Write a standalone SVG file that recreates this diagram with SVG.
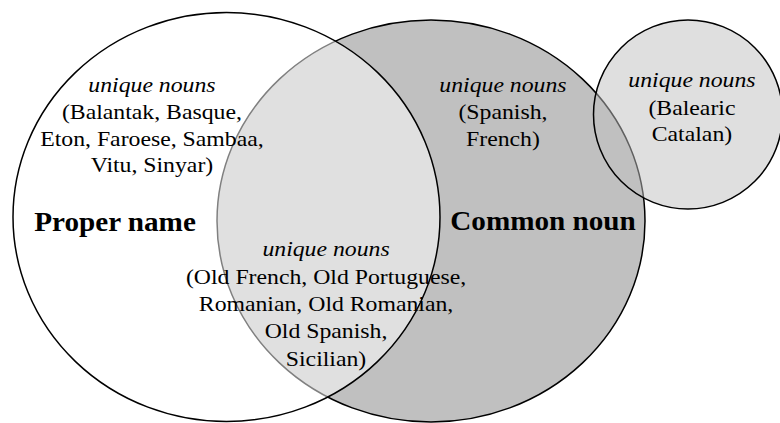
<svg xmlns="http://www.w3.org/2000/svg" width="780" height="423" viewBox="0 0 780 423">
<style>
.c{stroke:#000;stroke-width:1.5}
.t{font-family:"Liberation Serif","Times New Roman",serif;font-size:22px;fill:#000;text-anchor:middle}
.i{font-style:italic}
.b{font-weight:bold;font-size:27px}
</style>
<rect width="780" height="423" fill="#fff"/>
<g id="common-noun">
<ellipse class="c" cx="431" cy="221" rx="214" ry="201" fill="#c0c0c0"/>
</g>
<g id="proper-name">
<ellipse class="c" cx="226.5" cy="217" rx="213.5" ry="204.5" fill="#fff" fill-opacity="0.5"/>
</g>
<g id="balearic">
<ellipse class="c" cx="688" cy="114.5" rx="94.5" ry="94.5" fill="#c0c0c0" fill-opacity="0.5"/>
</g>
<g id="connectors"></g>
<g id="labels" transform="scale(1.08 1)">
<g id="label-proper-unique">
<text class="t i" x="140.7" y="92">unique nouns</text>
<text class="t" x="140.7" y="119">(Balantak, Basque,</text>
<text class="t" x="140.7" y="146">Eton, Faroese, Sambaa,</text>
<text class="t" x="140.7" y="172">Vitu, Sinyar)</text>
</g>
<g id="label-proper">
<text class="t b" x="106.5" y="231.5">Proper name</text>
</g>
<g id="label-common">
<text class="t b" x="502.8" y="230">Common noun</text>
</g>
<g id="label-both">
<text class="t i" x="301.9" y="256">unique nouns</text>
<text class="t" x="301.9" y="284">(Old French, Old Portuguese,</text>
<text class="t" x="301.9" y="311.5">Romanian, Old Romanian,</text>
<text class="t" x="301.9" y="338.5">Old Spanish,</text>
<text class="t" x="301.9" y="366">Sicilian)</text>
</g>
<g id="label-common-unique">
<text class="t i" x="465.7" y="92">unique nouns</text>
<text class="t" x="465.7" y="119.5">(Spanish,</text>
<text class="t" x="465.7" y="146">French)</text>
</g>
<g id="label-balearic">
<text class="t i" x="640.7" y="87">unique nouns</text>
<text class="t" x="640.7" y="115">(Balearic</text>
<text class="t" x="640.7" y="141.5">Catalan)</text>
</g>
</g>
</svg>
